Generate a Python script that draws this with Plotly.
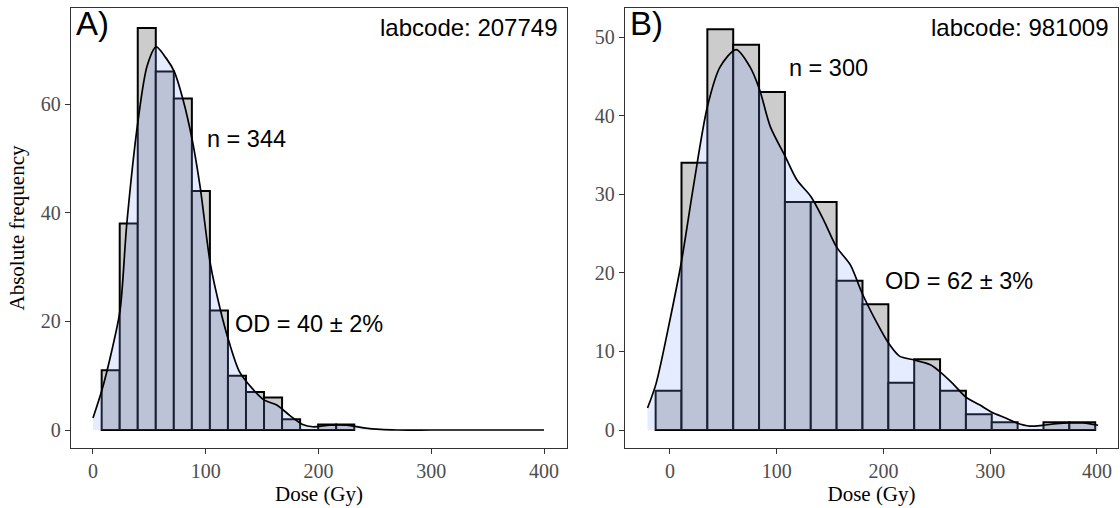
import plotly.graph_objects as go

# ---------------- data ----------------
# Panel A (labcode 207749)
a_bin_start = 7.7
a_bin_width = 16.0
a_counts = [11, 38, 74, 66, 61, 44, 22, 10, 7, 6, 2, 0, 1, 1]
a_dens_x = [0, 8, 16, 24, 30, 40, 48, 56, 65, 72, 80, 88, 95, 104, 113, 121, 130,
            141, 152, 163, 175, 186, 195, 210, 225, 240, 255, 270, 300, 350, 400]
a_dens_y = [2.2, 7.4, 14, 22, 38, 57, 67, 70.5, 68.4, 66, 60.7, 53.4, 44.8, 30.7, 22.1,
            16, 10.7, 7.7, 5.5, 4.6, 2.6, 1.0, 0.6, 0.9, 0.9, 0.4, 0.1, 0, 0, 0, 0]

# Panel B (labcode 981009)
b_bin_start = -13.4
b_bin_width = 24.22
b_counts = [5, 34, 51, 49, 43, 29, 29, 19, 16, 6, 9, 5, 2, 1, 0, 1, 1]
b_dens_x = [-21, -13, 0, 11, 22, 35, 47, 62, 75, 84, 94, 108, 119, 132, 144, 156, 169,
            180, 194, 205, 215, 229, 244, 253, 265, 277, 290, 301, 315, 325, 337, 349,
            362, 374, 387, 401]
b_dens_y = [2.8, 5.9, 14, 21.6, 31, 41.1, 46.2, 48.4, 46.2, 43.3, 38.6, 34.8, 31.8, 29.7,
            26.7, 23.3, 21, 17.4, 13.6, 11, 9.4, 8.9, 8.3, 7.4, 5.9, 4.2, 3.2, 2.3, 1.5,
            0.9, 0.5, 0.6, 0.8, 0.9, 0.9, 0.6]

panel_labels = ["A)", "B)"]
labcodes = ["labcode: 207749", "labcode: 981009"]
n_labels = ["n = 344", "n = 300"]
od_labels = ["OD = 40 ± 2%", "OD = 62 ± 3%"]
x_ticks = [0, 100, 200, 300, 400]
a_y_ticks = [0, 20, 40, 60]
b_y_ticks = [0, 10, 20, 30, 40, 50]

# annotation anchor positions (data units)
n_pos = [(99.5, 53.5), (110, 46)]
od_pos = [(124.5, 19.5), (199.5, 19)]

# ---------------- figure ----------------
W, H = 1120, 508
BAR_FILL = "#CCCCCC"
DENS_FILL = "rgba(127,158,255,0.20)"
SANS = "Liberation Sans, Arial, sans-serif"
SERIF = "Liberation Serif, Times New Roman, serif"

fig = go.Figure()


def add_panel(start, width, counts, dx, dy, xa, ya):
    centers = [start + width * (i + 0.5) for i in range(len(counts))]
    fig.add_trace(go.Bar(
        x=centers, y=counts, width=[width] * len(counts),
        marker=dict(color=BAR_FILL, line=dict(color="black", width=2)),
        xaxis=xa, yaxis=ya, showlegend=False, hoverinfo="x+y"))
    fig.add_trace(go.Scatter(
        x=dx, y=dy, mode="lines", fill="tozeroy", fillcolor=DENS_FILL,
        line=dict(color="black", width=1.7, shape="spline", smoothing=0.8),
        xaxis=xa, yaxis=ya, showlegend=False))


add_panel(a_bin_start, a_bin_width, a_counts, a_dens_x, a_dens_y, "x", "y")
add_panel(b_bin_start, b_bin_width, b_counts, b_dens_x, b_dens_y, "x2", "y2")

axis_common = dict(
    showgrid=False, zeroline=False, showline=True, mirror=True,
    linecolor="#333333", linewidth=1.3,
    ticks="outside", ticklen=5, tickwidth=1.2, tickcolor="#333333",
    tickfont=dict(family=SERIF, size=20, color="#4D4D4D"),
)

dom_a = [71 / W, 567 / W]
dom_b = [625 / W, 1118 / W]
dom_y = [60 / H, 500 / H]

fig.update_layout(
    width=W, height=H, margin=dict(l=0, r=0, t=0, b=0),
    paper_bgcolor="white", plot_bgcolor="white", barmode="overlay",
    xaxis=dict(domain=dom_a, range=[-19.5, 420.4], tickvals=x_ticks, anchor="y",
               title=dict(text="Dose (Gy)", font=dict(family=SERIF, size=21, color="black"),
                          standoff=0),
               **axis_common),
    yaxis=dict(domain=dom_y, range=[-3.31, 77.67], tickvals=a_y_ticks, anchor="x",
               title=dict(text="Absolute frequency", font=dict(family=SERIF, size=21, color="black"),
                          standoff=10),
               **axis_common),
    xaxis2=dict(domain=dom_b, range=[-42.1, 419.7], tickvals=x_ticks, anchor="y2",
                title=dict(text="Dose (Gy)", font=dict(family=SERIF, size=21, color="black"),
                           standoff=0),
                **axis_common),
    yaxis2=dict(domain=dom_y, range=[-2.29, 53.69], tickvals=b_y_ticks, anchor="x2",
                **axis_common),
)

ann = []
for i, (xr, yr) in enumerate([("x", "y"), ("x2", "y2")]):
    ann.append(dict(text=panel_labels[i], xref=f"{xr} domain", yref=f"{yr} domain",
                    x=0.006, y=1.012, xanchor="left", yanchor="top", showarrow=False,
                    font=dict(family=SANS, size=33, color="black")))
    ann.append(dict(text=labcodes[i], xref=f"{xr} domain", yref=f"{yr} domain",
                    x=0.985, y=0.99, xanchor="right", yanchor="top", showarrow=False,
                    font=dict(family=SANS, size=24, color="black")))
    ann.append(dict(text=n_labels[i], xref=xr, yref=yr, x=n_pos[i][0], y=n_pos[i][1],
                    xanchor="left", yanchor="middle", showarrow=False,
                    font=dict(family=SANS, size=23.5, color="black")))
    ann.append(dict(text=od_labels[i], xref=xr, yref=yr, x=od_pos[i][0], y=od_pos[i][1],
                    xanchor="left", yanchor="middle", showarrow=False,
                    font=dict(family=SANS, size=23.5, color="black")))
fig.update_layout(annotations=ann)

fig.write_html("out.html")
